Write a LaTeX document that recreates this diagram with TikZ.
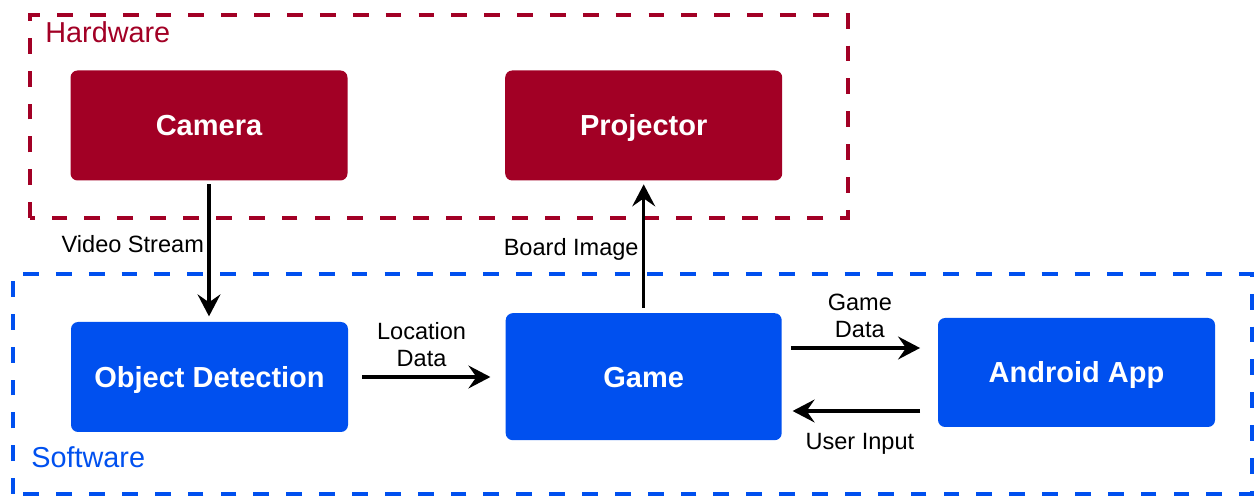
\documentclass[tikz,border=0pt]{standalone}
\usepackage{fontspec}
\setmainfont{Liberation Sans}
\usetikzlibrary{arrows.meta,positioning}
\definecolor{hwred}{HTML}{A20025}
\definecolor{swblue}{HTML}{0050EF}

\begin{document}
\begin{tikzpicture}[
        block/.style = {rectangle, rounded corners=4pt, text=white, inner sep=0pt,
            font=\fontsize{16.5}{19}\selectfont\bfseries, text height=11.8pt, text depth=0pt,
            minimum width=5.54cm, minimum height=2.2cm},
        hwblock/.style = {block, fill=hwred},
        swblock/.style = {block, fill=swblue},
        group/.style = {line width=2.5pt, dash pattern=on 9pt off 9.7pt},
        grouplabel/.style = {font=\fontsize{16.4}{19}\selectfont, inner sep=0pt, anchor=base west},
        flow/.style = {-{Stealth[length=12.5pt,width=13pt,inset=4.5pt]}, line width=1.8pt},
        lbl/.style = {font=\fontsize{13.4}{15.3}\selectfont, align=center, inner sep=2pt}]
    \useasboundingbox (0,0) rectangle (25.14,9.96);

    \draw [group, hwred] (0.6,5.6) rectangle (16.96,9.66);
    \node [grouplabel, text=hwred] (hwlabel) at (0.9,9.1) {Hardware};
    \draw [group, swblue] (0.26,0.08) rectangle (25.04,4.48);
    \node [grouplabel, text=swblue] (swlabel) at (0.62,0.6) {Software};

    \node [hwblock] (camera) at (4.18,7.45) {Camera};
    \node [hwblock, right=3.14cm of camera] (projector) {Projector};

    \node [swblock] (detect) at (4.19,2.42) {Object Detection};
    \node [swblock, minimum width=5.52cm, minimum height=2.54cm, below=2.64cm of projector] (game) {Game};
    \node [swblock, minimum height=2.18cm] (android) at (21.53,2.51) {Android App};

    \coordinate (gamedata) at (0,3.0);
    \coordinate (userinput) at (0,1.74);

    \draw [flow, shorten <=2pt, shorten >=3pt] (camera.south)
        -- node [lbl, left, pos=0.45] {Video Stream} (camera.south |- detect.north);
    \draw [flow, shorten <=3pt, shorten >=2pt] (game.north)
        -- node [lbl, left, pos=0.48] {Board Image} (projector.south);
    \draw [flow, shorten <=8pt, shorten >=8.5pt] (detect.east)
        -- node [lbl, above=3pt, xshift=-3pt] {Location\\Data} (detect.east -| game.west);
    \draw [flow, shorten <=5pt, shorten >=10pt] (game.east |- gamedata)
        -- node [lbl, above=3pt] {Game\\Data} (android.west |- gamedata);
    \draw [flow, shorten <=10pt, shorten >=6pt] (android.west |- userinput)
        -- node [lbl, below=10pt] {User Input} (game.east |- userinput);
\end{tikzpicture}
\end{document}
